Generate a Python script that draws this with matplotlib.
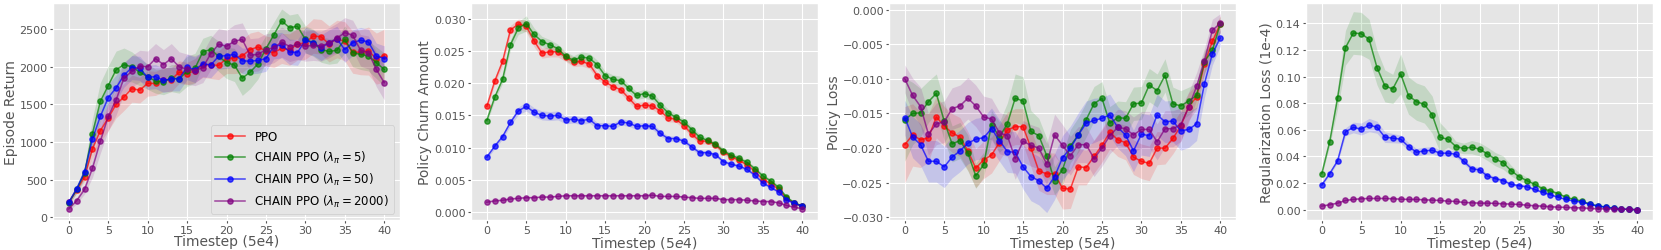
"""
CHAIN PPO training curves: return, churn, policy loss, regularization loss.
"""

import matplotlib
matplotlib.use("Agg")
import matplotlib.pyplot as plt
import numpy as np

timesteps = list(range(41))

labels = ["PPO", r"CHAIN PPO ($\lambda_\pi = 5$)", r"CHAIN PPO ($\lambda_\pi = 50$)",
          r"CHAIN PPO ($\lambda_\pi = 2000$)"]
colors = ["red", "green", "blue", "purple"]

# --- Episode return ---
return_ppo = [200, 360, 540, 910, 1150, 1320, 1500, 1600, 1710, 1690, 1780, 1780, 1830, 1830,
              1930, 1910, 1950, 2030, 2025, 2020, 2110, 2120, 2145, 2230, 2265, 2210, 2190,
              2245, 2230, 2300, 2320, 2410, 2400, 2305, 2370, 2340, 2195, 2195, 2210, 2110, 2150]
return_c5 = [190, 370, 590, 1110, 1540, 1750, 1960, 2030, 2000, 1930, 1870, 1810, 1800, 1850,
             1840, 1940, 1980, 2200, 2230, 2140, 2055, 2025, 1850, 1930, 2040, 2240, 2425,
             2610, 2520, 2540, 2365, 2320, 2230, 2205, 2220, 2365, 2190, 2165, 2145, 2055, 1965]
return_c50 = [200, 380, 600, 1040, 1340, 1590, 1720, 1890, 1990, 1980, 1860, 1870, 1820, 1840,
              1840, 2000, 1960, 2040, 2025, 2140, 2150, 2165, 2080, 2075, 2085, 2110, 2275,
              2290, 2200, 2190, 2355, 2320, 2255, 2320, 2370, 2230, 2320, 2355, 2330, 2145, 2110]
return_c2000 = [110, 220, 370, 650, 1010, 1340, 1560, 1850, 1940, 2010, 2000, 2110, 2030, 2110,
                2000, 1970, 1950, 1990, 2175, 2300, 2275, 2340, 2365, 2155, 2165, 2230, 2255,
                2330, 2270, 2300, 2275, 2285, 2275, 2320, 2380, 2455, 2420, 2220, 2190, 1965, 1790]
return_ppo_std = [30, 40, 60, 120, 150, 170, 180, 180, 180, 170, 170, 160, 160, 160, 150, 150,
                  160, 170, 180, 190, 200, 210, 220, 220, 210, 200, 200, 200, 210, 210, 220,
                  230, 230, 240, 250, 260, 280, 300, 320, 340, 350]
return_c5_std = [30, 50, 80, 200, 250, 260, 250, 220, 200, 180, 170, 160, 170, 180, 190, 200,
                 200, 180, 190, 200, 210, 220, 230, 220, 200, 180, 170, 160, 170, 170, 180,
                 180, 170, 170, 170, 180, 190, 200, 200, 210, 220]
return_c50_std = [20, 40, 70, 150, 180, 180, 170, 160, 160, 160, 160, 160, 160, 160, 160, 170,
                  170, 170, 170, 170, 170, 170, 170, 170, 170, 170, 170, 170, 170, 170, 170,
                  170, 170, 170, 170, 170, 170, 170, 170, 170, 170]
return_c2000_std = [30, 40, 60, 120, 160, 190, 200, 210, 210, 210, 210, 200, 200, 200, 200, 200,
                    200, 200, 210, 210, 210, 220, 220, 220, 220, 210, 200, 200, 200, 200, 200,
                    200, 200, 200, 200, 200, 200, 210, 220, 230, 230]

# --- Policy churn amount ---
churn_ppo = [0.0164, 0.0203, 0.0234, 0.0283, 0.0292, 0.0289, 0.0266, 0.0247, 0.0249, 0.0249,
             0.0241, 0.0233, 0.0234, 0.0230, 0.0212, 0.0202, 0.0195, 0.0190, 0.0177, 0.0164,
             0.0166, 0.0165, 0.0157, 0.0146, 0.0144, 0.0134, 0.0121, 0.0110, 0.0110, 0.0104,
             0.0093, 0.0086, 0.0080, 0.0073, 0.0063, 0.0050, 0.0044, 0.0035, 0.0021, 0.0013,
             0.0009]
churn_c5 = [0.0142, 0.0178, 0.0206, 0.0260, 0.0286, 0.0293, 0.0276, 0.0265, 0.0260, 0.0254,
            0.0242, 0.0236, 0.0241, 0.0239, 0.0229, 0.0212, 0.0206, 0.0204, 0.0192, 0.0181,
            0.0184, 0.0180, 0.0166, 0.0154, 0.0147, 0.0140, 0.0128, 0.0116, 0.0111, 0.0105,
            0.0095, 0.0088, 0.0083, 0.0077, 0.0067, 0.0056, 0.0048, 0.0038, 0.0023, 0.0014,
            0.0009]
churn_c50 = [0.0085, 0.0102, 0.0117, 0.0139, 0.0157, 0.0164, 0.0155, 0.0150, 0.0149, 0.0150,
             0.0143, 0.0144, 0.0142, 0.0144, 0.0134, 0.0134, 0.0133, 0.0140, 0.0138, 0.0133,
             0.0134, 0.0133, 0.0122, 0.0114, 0.0114, 0.0110, 0.0101, 0.0092, 0.0092, 0.0089,
             0.0078, 0.0074, 0.0071, 0.0066, 0.0057, 0.0045, 0.0038, 0.0031, 0.0019, 0.0013,
             0.0009]
churn_c2000 = [0.0015, 0.0017, 0.0018, 0.0020, 0.0021, 0.0022, 0.0022, 0.0023, 0.0023, 0.0024,
               0.0025, 0.0025, 0.0025, 0.0025, 0.0025, 0.0025, 0.0025, 0.0025, 0.0025, 0.0025,
               0.0025, 0.0026, 0.0024, 0.0024, 0.0024, 0.0023, 0.0022, 0.0021, 0.0021, 0.0021,
               0.0019, 0.0019, 0.0019, 0.0018, 0.0017, 0.0016, 0.0016, 0.0014, 0.0010, 0.0007,
               0.0005]
churn_ppo_std = [0.0004, 0.0005, 0.0006, 0.0007, 0.0008, 0.0009, 0.0009, 0.0008, 0.0008, 0.0008,
                 0.0007, 0.0007, 0.0007, 0.0007, 0.0006, 0.0006, 0.0006, 0.0006, 0.0006, 0.0006,
                 0.0006, 0.0006, 0.0006, 0.0006, 0.0005, 0.0005, 0.0005, 0.0005, 0.0004, 0.0004,
                 0.0004, 0.0004, 0.0004, 0.0003, 0.0003, 0.0003, 0.0003, 0.0003, 0.0002, 0.0002,
                 0.0002]
churn_c5_std = [0.0004, 0.0005, 0.0006, 0.0008, 0.0010, 0.0012, 0.0010, 0.0008, 0.0008, 0.0007,
                0.0007, 0.0007, 0.0008, 0.0008, 0.0007, 0.0007, 0.0007, 0.0007, 0.0006, 0.0006,
                0.0007, 0.0007, 0.0006, 0.0006, 0.0005, 0.0005, 0.0005, 0.0005, 0.0004, 0.0004,
                0.0004, 0.0004, 0.0004, 0.0003, 0.0003, 0.0003, 0.0003, 0.0003, 0.0002, 0.0002,
                0.0002]
churn_c50_std = [0.0003, 0.0004, 0.0004, 0.0005, 0.0006, 0.0007, 0.0007, 0.0007, 0.0007, 0.0007,
                 0.0006, 0.0006, 0.0006, 0.0006, 0.0005, 0.0005, 0.0005, 0.0005, 0.0005, 0.0005,
                 0.0005, 0.0005, 0.0004, 0.0004, 0.0004, 0.0004, 0.0004, 0.0004, 0.0003, 0.0003,
                 0.0003, 0.0003, 0.0003, 0.0003, 0.0003, 0.0003, 0.0002, 0.0002, 0.0002, 0.0002,
                 0.0002]
churn_c2000_std = [0.0001] * 41

# --- Policy loss ---
ploss_ppo = [-0.0195, -0.0181, -0.0188, -0.0185, -0.0155, -0.0168, -0.0178, -0.0184, -0.0204,
             -0.0229, -0.0217, -0.0210, -0.0192, -0.0174, -0.0169, -0.0169, -0.0200, -0.0233,
             -0.0237, -0.0237, -0.0258, -0.0259, -0.0227, -0.0228, -0.0212, -0.0196, -0.0177,
             -0.0188, -0.0192, -0.0213, -0.0219, -0.0222, -0.0200, -0.0200, -0.0186, -0.0168,
             -0.0140, -0.0126, -0.0078, -0.0046, -0.0021]
ploss_c5 = [-0.0159, -0.0150, -0.0149, -0.0133, -0.0121, -0.0161, -0.0194, -0.0189, -0.0207,
            -0.0240, -0.0224, -0.0166, -0.0184, -0.0165, -0.0128, -0.0132, -0.0176, -0.0182,
            -0.0211, -0.0247, -0.0231, -0.0197, -0.0181, -0.0159, -0.0136, -0.0128, -0.0164,
            -0.0156, -0.0157, -0.0136, -0.0135, -0.0109, -0.0117, -0.0095, -0.0136, -0.0139,
            -0.0132, -0.0124, -0.0075, -0.0059, -0.0021]
ploss_c50 = [-0.0156, -0.0184, -0.0195, -0.0219, -0.0219, -0.0227, -0.0213, -0.0204, -0.0193,
             -0.0187, -0.0185, -0.0172, -0.0189, -0.0205, -0.0206, -0.0227, -0.0241, -0.0247,
             -0.0258, -0.0241, -0.0214, -0.0200, -0.0181, -0.0164, -0.0160, -0.0157, -0.0152,
             -0.0170, -0.0181, -0.0204, -0.0180, -0.0182, -0.0152, -0.0162, -0.0161, -0.0175,
             -0.0173, -0.0165, -0.0107, -0.0064, -0.0041]
ploss_c2000 = [-0.0100, -0.0124, -0.0140, -0.0180, -0.0165, -0.0162, -0.0143, -0.0139, -0.0128,
               -0.0139, -0.0155, -0.0158, -0.0178, -0.0182, -0.0215, -0.0190, -0.0196, -0.0200,
               -0.0223, -0.0181, -0.0196, -0.0211, -0.0195, -0.0195, -0.0215, -0.0200, -0.0182,
               -0.0170, -0.0172, -0.0181, -0.0173, -0.0173, -0.0191, -0.0172, -0.0172, -0.0166,
               -0.0141, -0.0111, -0.0074, -0.0030, -0.0020]
ploss_ppo_std = [0.0055, 0.0045, 0.0040, 0.0035, 0.0030, 0.0028, 0.0028, 0.0028, 0.0028, 0.0028,
                 0.0027, 0.0026, 0.0026, 0.0026, 0.0026, 0.0026, 0.0027, 0.0028, 0.0030, 0.0030,
                 0.0030, 0.0028, 0.0026, 0.0025, 0.0024, 0.0024, 0.0024, 0.0024, 0.0025, 0.0025,
                 0.0025, 0.0025, 0.0024, 0.0023, 0.0022, 0.0022, 0.0020, 0.0018, 0.0016, 0.0014,
                 0.0012]
ploss_c5_std = [0.0060, 0.0045, 0.0035, 0.0030, 0.0028, 0.0028, 0.0026, 0.0026, 0.0026, 0.0018,
                0.0018, 0.0020, 0.0022, 0.0030, 0.0035, 0.0035, 0.0030, 0.0025, 0.0025, 0.0020,
                0.0022, 0.0024, 0.0025, 0.0025, 0.0025, 0.0024, 0.0024, 0.0024, 0.0024, 0.0024,
                0.0024, 0.0024, 0.0024, 0.0024, 0.0024, 0.0022, 0.0020, 0.0018, 0.0016, 0.0014,
                0.0012]
ploss_c50_std = [0.0025, 0.0030, 0.0030, 0.0030, 0.0030, 0.0030, 0.0030, 0.0030, 0.0030, 0.0030,
                 0.0030, 0.0030, 0.0030, 0.0030, 0.0030, 0.0032, 0.0035, 0.0035, 0.0035, 0.0033,
                 0.0032, 0.0032, 0.0032, 0.0032, 0.0032, 0.0030, 0.0030, 0.0030, 0.0030, 0.0030,
                 0.0030, 0.0030, 0.0030, 0.0030, 0.0030, 0.0028, 0.0026, 0.0024, 0.0020, 0.0016,
                 0.0012]
ploss_c2000_std = [0.0020, 0.0025, 0.0028, 0.0030, 0.0030, 0.0030, 0.0030, 0.0030, 0.0030,
                   0.0030, 0.0030, 0.0030, 0.0030, 0.0030, 0.0030, 0.0030, 0.0030, 0.0030,
                   0.0030, 0.0030, 0.0030, 0.0028, 0.0026, 0.0026, 0.0026, 0.0026, 0.0026,
                   0.0026, 0.0026, 0.0026, 0.0026, 0.0026, 0.0026, 0.0026, 0.0026, 0.0024,
                   0.0022, 0.0020, 0.0018, 0.0016, 0.0014]

# --- Regularization loss (PPO has none) ---
reg_c5 = [0.0271, 0.0510, 0.0837, 0.1216, 0.1327, 0.1322, 0.1280, 0.1068, 0.0930, 0.0907,
          0.1020, 0.0857, 0.0812, 0.0791, 0.0714, 0.0543, 0.0530, 0.0475, 0.0460, 0.0470,
          0.0455, 0.0420, 0.0380, 0.0354, 0.0294, 0.0249, 0.0219, 0.0191, 0.0158, 0.0141,
          0.0121, 0.0093, 0.0078, 0.0065, 0.0043, 0.0030, 0.0020, 0.0013, 0.0005, 0.0003,
          0.0000]
reg_c50 = [0.0186, 0.0271, 0.0367, 0.0585, 0.0618, 0.0606, 0.0636, 0.0620, 0.0545, 0.0538,
           0.0530, 0.0475, 0.0432, 0.0442, 0.0447, 0.0425, 0.0425, 0.0417, 0.0364, 0.0309,
           0.0299, 0.0254, 0.0234, 0.0219, 0.0191, 0.0181, 0.0173, 0.0153, 0.0131, 0.0113,
           0.0093, 0.0078, 0.0065, 0.0058, 0.0040, 0.0028, 0.0020, 0.0010, 0.0005, 0.0003,
           0.0000]
reg_c2000 = [0.0028, 0.0038, 0.0050, 0.0070, 0.0078, 0.0083, 0.0085, 0.0085, 0.0085, 0.0083,
             0.0080, 0.0078, 0.0078, 0.0075, 0.0073, 0.0070, 0.0065, 0.0063, 0.0055, 0.0053,
             0.0050, 0.0050, 0.0048, 0.0045, 0.0043, 0.0040, 0.0035, 0.0030, 0.0028, 0.0023,
             0.0020, 0.0018, 0.0015, 0.0015, 0.0010, 0.0008, 0.0008, 0.0006, 0.0004, 0.0003,
             0.0000]
reg_c5_std = [0.0015, 0.0030, 0.0080, 0.0130, 0.0160, 0.0160, 0.0150, 0.0130, 0.0120, 0.0110,
              0.0150, 0.0140, 0.0140, 0.0140, 0.0140, 0.0110, 0.0060, 0.0040, 0.0040, 0.0050,
              0.0050, 0.0050, 0.0050, 0.0050, 0.0040, 0.0030, 0.0025, 0.0020, 0.0015, 0.0012,
              0.0010, 0.0008, 0.0007, 0.0006, 0.0005, 0.0004, 0.0003, 0.0002, 0.0002, 0.0001,
              0.0001]
reg_c50_std = [0.0008, 0.0010, 0.0015, 0.0030, 0.0040, 0.0045, 0.0050, 0.0045, 0.0040, 0.0035,
               0.0030, 0.0030, 0.0028, 0.0028, 0.0028, 0.0026, 0.0024, 0.0022, 0.0020, 0.0020,
               0.0020, 0.0018, 0.0016, 0.0014, 0.0012, 0.0010, 0.0010, 0.0009, 0.0008, 0.0007,
               0.0006, 0.0006, 0.0005, 0.0005, 0.0004, 0.0003, 0.0003, 0.0002, 0.0002, 0.0001,
               0.0001]
reg_c2000_std = [0.0003] * 41

panels = [
    {"ylabel": "Episode Return", "xlabel": "Timestep (5e4)",
     "series": [(return_ppo, return_ppo_std), (return_c5, return_c5_std),
                (return_c50, return_c50_std), (return_c2000, return_c2000_std)],
     "ylim": (-30, 2845), "yticks": [0, 500, 1000, 1500, 2000, 2500], "fmt": "{:.0f}"},
    {"ylabel": "Policy Churn Amount", "xlabel": r"Timestep (5$e$4)",
     "series": [(churn_ppo, churn_ppo_std), (churn_c5, churn_c5_std),
                (churn_c50, churn_c50_std), (churn_c2000, churn_c2000_std)],
     "ylim": (-0.0012, 0.03245), "yticks": [0, 0.005, 0.01, 0.015, 0.02, 0.025, 0.03],
     "fmt": "{:.3f}"},
    {"ylabel": "Policy Loss", "xlabel": r"Timestep (5$e$4)",
     "series": [(ploss_ppo, ploss_ppo_std), (ploss_c5, ploss_c5_std),
                (ploss_c50, ploss_c50_std), (ploss_c2000, ploss_c2000_std)],
     "ylim": (-0.0303, 0.0009), "yticks": [-0.03, -0.025, -0.02, -0.015, -0.01, -0.005, 0.0],
     "fmt": "{:.3f}"},
    {"ylabel": "Regularization Loss (1e-4)", "xlabel": r"Timestep (5$e$4)",
     "series": [None, (reg_c5, reg_c5_std), (reg_c50, reg_c50_std),
                (reg_c2000, reg_c2000_std)],
     "ylim": (-0.0073, 0.155), "yticks": [0, 0.02, 0.04, 0.06, 0.08, 0.1, 0.12, 0.14],
     "fmt": "{:.2f}"},
]

plt.style.use("ggplot")
fig = plt.figure(figsize=(16.61, 2.51), dpi=100)
lefts = [53, 471, 889, 1306]
x = np.array(timesteps)

for left, panel in zip(lefts, panels):
    ax = fig.add_axes([left / 1661, 1 - 220.5 / 251, 347 / 1661, 216.2 / 251])
    for (entry, label, color) in zip(panel["series"], labels, colors):
        if entry is None:
            continue
        mean, std = np.array(entry[0]), np.array(entry[1])
        ax.fill_between(x, mean - std, mean + std, color=color, alpha=0.14, lw=0)
        ax.plot(x, mean, color=color, marker="o", markersize=3.8, lw=1.1, alpha=0.7,
                label=label)
    ax.set_xlim(-2, 42)
    ax.set_ylim(*panel["ylim"])
    ax.set_xticks([0, 5, 10, 15, 20, 25, 30, 35, 40])
    ax.set_yticks(panel["yticks"])
    ax.set_yticklabels([panel["fmt"].format(v).replace("-", "\u2212") for v in panel["yticks"]])
    ax.tick_params(labelsize=8, colors="#555555", length=2.5, pad=1.5)
    ax.set_ylabel(panel["ylabel"], fontsize=10, color="#555555", labelpad=1)
    ax.set_xlabel(panel["xlabel"], fontsize=10, color="#555555", labelpad=-1)
    if left == 53:
        ax.legend(loc="lower right", fontsize=8.5, facecolor="#E5E5E5", edgecolor="#CCCCCC",
                  framealpha=1.0, handlelength=2.5)

fig.savefig("out.png", dpi=100)
